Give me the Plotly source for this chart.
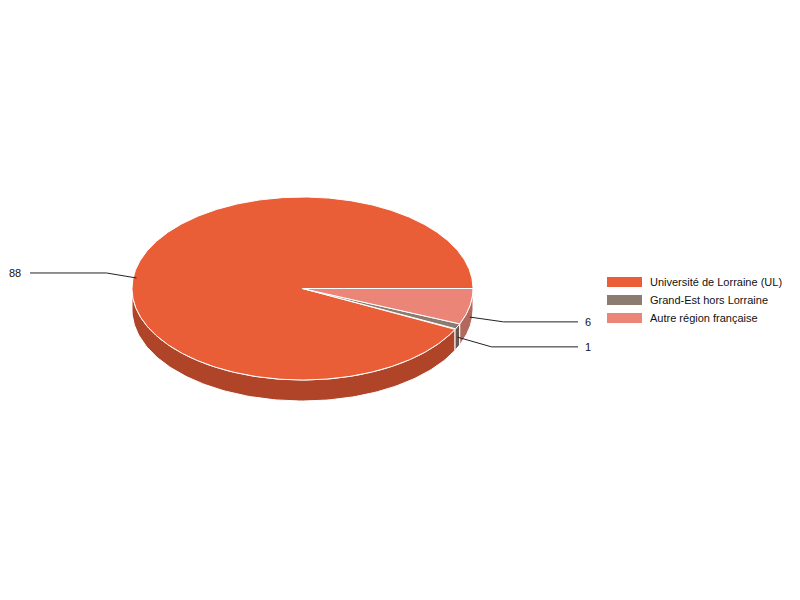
import numpy as np
import plotly.graph_objects as go

# ---- data ----
categories = ["Université de Lorraine (UL)", "Grand-Est hors Lorraine", "Autre région française"]
values = [88, 1, 6]
top_colors = ["#E95E37", "#8B7B70", "#EB8577"]
side_colors = ["#AF4429", "#655850", "#B3675D"]

# ---- geometry (pixel space of the page) ----
W, H = 800, 600
OFF = 8  # page body margin
cx, cy = 302.5, 288.5
rx, ry = 170.5, 91.5
depth = 21

total = float(sum(values))
fig = go.Figure()


def pt(phi, dy=0.0):
    r = np.radians(phi)
    return cx + rx * np.cos(r), cy - ry * np.sin(r) + dy


# slice angular ranges (counter-clockwise from 3 o'clock)
ranges = []
start = 0.0
for v in values:
    sweep = v / total * 360.0
    ranges.append((start, start + sweep))
    start += sweep

# side walls (only front half, phi in [180, 360])
for (a0, a1), sc in zip(ranges, side_colors):
    lo, hi = max(a0, 180.0), min(a1, 360.0)
    if hi <= lo:
        continue
    phis = np.linspace(lo, hi, 120)
    xs_t, ys_t = pt(phis)
    xs_b, ys_b = pt(phis[::-1], depth)
    xs = np.concatenate([xs_t, xs_b, xs_t[:1]])
    ys = np.concatenate([ys_t, ys_b, ys_t[:1]])
    fig.add_trace(go.Scatter(x=xs, y=ys, mode="lines", fill="toself", fillcolor=sc,
                             line=dict(color="white", width=1), hoverinfo="skip",
                             showlegend=False))

# top faces
for (a0, a1), tc, cat, v in zip(ranges, top_colors, categories, values):
    phis = np.linspace(a0, a1, max(10, int((a1 - a0) * 2)))
    xs, ys = pt(phis)
    xs = np.concatenate([[cx], xs, [cx]])
    ys = np.concatenate([[cy], ys, [cy]])
    fig.add_trace(go.Scatter(x=xs, y=ys, mode="lines", fill="toself", fillcolor=tc,
                             line=dict(color="white", width=1), hoverinfo="text",
                             text=f"{cat}: {v}", showlegend=False))

# leader lines and value labels
annotations = []
shapes = []
for (a0, a1), v in zip(ranges, values):
    mid = (a0 + a1) / 2.0
    ax_, ay_ = pt(mid, depth / 2.0)
    right = np.cos(np.radians(mid)) >= 0
    if right:
        far = (ay_ - cy) > 40
        ly = cy + (ay_ - cy) * (1.2 if far else 1.17)
        ex = ax_ + 34
        end_x = 578
        tx, anchor = 583, "left"
    else:
        ly = cy + (ay_ - cy) * 1.48
        ex = ax_ - 30
        end_x = 30
        tx, anchor = 23, "right"
    fig.add_trace(go.Scatter(x=[ax_, ex, end_x], y=[ay_, ly, ly], mode="lines",
                             line=dict(color="#222222", width=1), hoverinfo="skip",
                             showlegend=False))
    annotations.append(dict(x=tx, y=ly, xref="x", yref="y", text=str(v), showarrow=False,
                            xanchor=anchor, yanchor="middle",
                            font=dict(family="Liberation Sans, Arial", size=11, color="#111111")))

# legend (manual)
for i, (cat, tc) in enumerate(zip(categories, top_colors)):
    yc = 282 + 18 * i
    shapes.append(dict(type="rect", xref="x", yref="y", x0=607, x1=642, y0=yc - 5, y1=yc + 5,
                       fillcolor=tc, line=dict(width=0)))
    annotations.append(dict(x=648, y=yc, xref="x", yref="y", text=cat, showarrow=False,
                            xanchor="left", yanchor="middle",
                            font=dict(family="Liberation Sans, Arial", size=11, color="#111111")))

fig.update_layout(
    width=W - OFF, height=H - OFF,
    margin=dict(l=0, r=0, t=0, b=0),
    paper_bgcolor="white", plot_bgcolor="white",
    xaxis=dict(range=[OFF, W], visible=False, fixedrange=True),
    yaxis=dict(range=[H, OFF], visible=False, fixedrange=True),
    shapes=shapes, annotations=annotations,
    showlegend=False,
)

fig.write_html("out.html")
